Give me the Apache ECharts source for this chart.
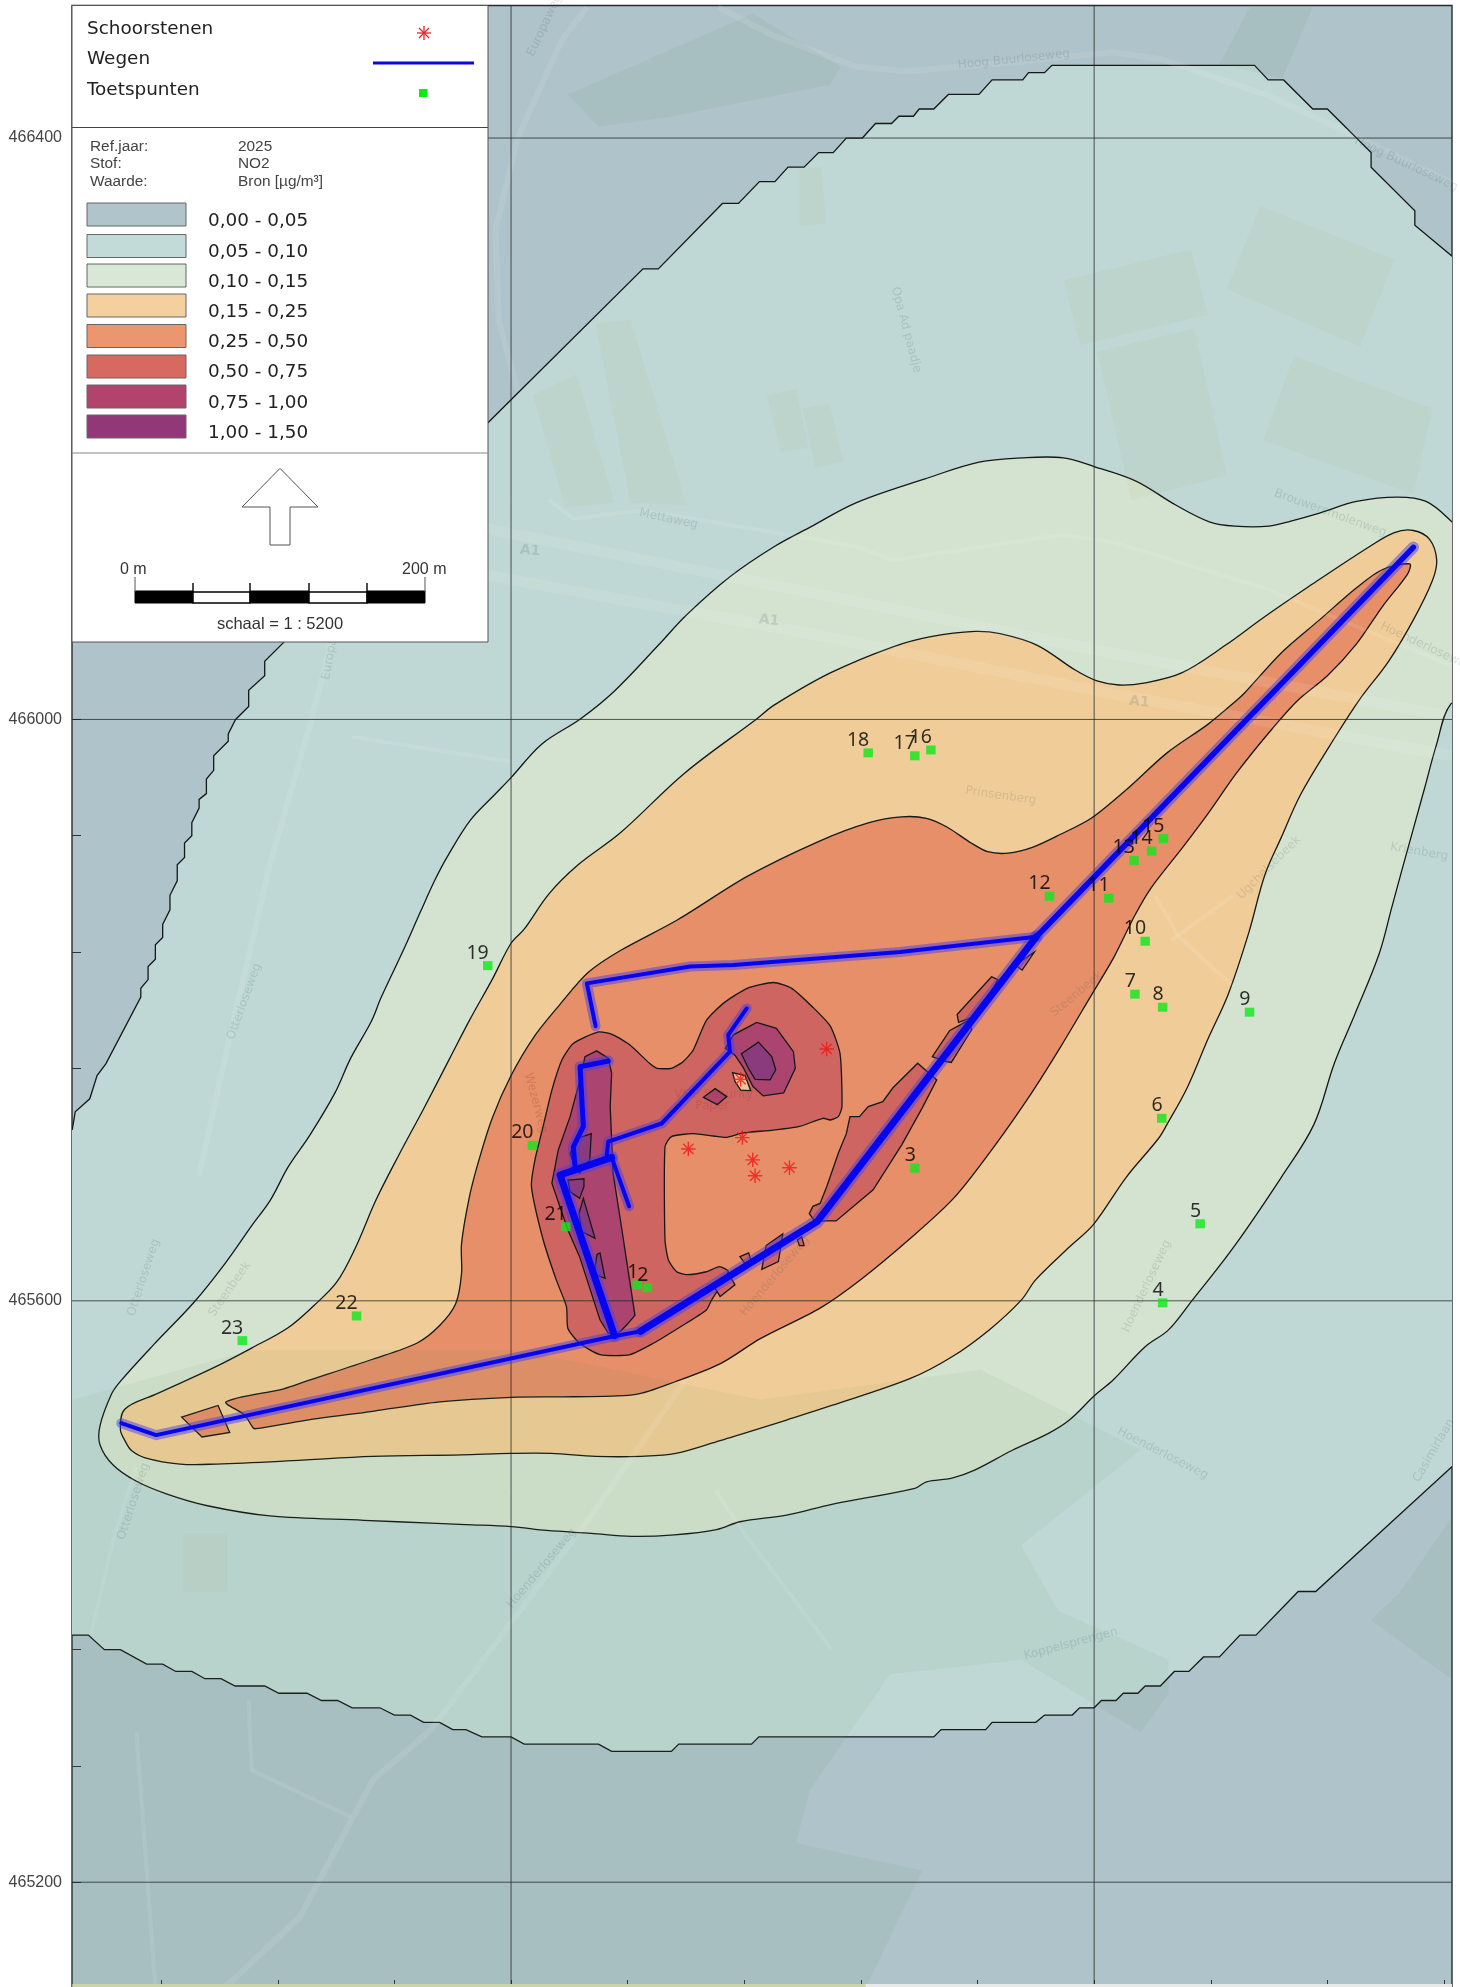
<!DOCTYPE html>
<html><head><meta charset="utf-8">
<style>html,body{margin:0;padding:0;background:#fff}#c{width:1460px;height:1987px}</style>
<script src="https://cdn.jsdelivr.net/npm/echarts@6/dist/echarts.min.js"></script>
</head><body><div id="c"></div>
<script>
// ---- axes (RD metres)
const xMin=174098.8,xMax=175045.5,yMin=465127.9,yMax=466491.2;
const gridX=[174400,174800];
const gridY=[465200,465600,466000,466400];
const tickX=[174160,174240,174320,174400,174480,174560,174640,174720,174800,174880,174960,175040];
const tickY=[465200,465280,465360,465440,465520,465600,465680,465760,465840,465920,466000,466080,466160,466240,466320,466400,466480];
// ---- legend
const classLabels=['0,00 - 0,05','0,05 - 0,10','0,10 - 0,15','0,15 - 0,25','0,25 - 0,50','0,50 - 0,75','0,75 - 1,00','1,00 - 1,50'];
const classColors=['#afc4cb','#c2dad8','#d8e7d6','#f3d09d','#ec9670','#d66a61','#b2436b','#923778'];
const mapColors=['#aec3ca','#bfd8d5','#d4e3d0','#f0cd98','#e68f68','#cf6560','#ac4470','#8a3b7d'];
// ---- contours
const contour005=[[174099,465718],[174101,465730],[174111,465739],[174116,465755],[174122,465763],[174146,465809],[174146,465815],[174151,465821],[174151,465830],[174156,465835],[174156,465845],[174161,465850],[174161,465859],[174166,465869],[174166,465879],[174171,465889],[174171,465900],[174176,465905],[174176,465915],[174181,465920],[174181,465929],[174186,465939],[174186,465945],[174191,465949],[174191,465959],[174196,465965],[174196,465975],[174206,465985],[174206,465990],[174211,466000],[174220,466009],[174220,466020],[174231,466030],[174231,466040],[174244,466053],[174384,466204],[174400,466220],[174490.5,466310],[174501,466310],[174545,466355],[174556,466355],[174570.4,466370],[174581,466370],[174590,466380],[174601,466380],[174611,466390],[174621,466390],[174630,466400],[174641,466400],[174650,466410],[174661,466410],[174666,466415],[174676,466415],[174680,466420],[174690,466420],[174700,466430],[174721,466430],[174730,466440],[174751,466440],[174755,466445],[174766,466445],[174771,466450],[174910,466450],[174919.4,466440],[174930,466440],[174950,466420],[174960,466420],[174990,466390],[174990,466380],[175020,466350],[175020,466340],[175050,466315],[175100,466315],[175100,465490],[175050,465490],[174952,465400],[174940,465400],[174911,465370],[174900,465370],[174886,465355],[174875,465355],[174865,465345],[174855,465345],[174845.4,465335],[174835,465335],[174830,465330],[174820,465330],[174815,465325],[174805,465325],[174800,465320],[174790,465320],[174785,465315],[174766,465315],[174760,465310],[174730,465310],[174725.6,465305],[174695,465305],[174690,465300],[174570,465300],[174565,465295],[174515,465295],[174510,465290],[174469,465290],[174460,465295],[174409,465295],[174400,465300],[174380,465300],[174369,465305],[174360,465305],[174351,465310],[174340,465310],[174331,465315],[174320,465315],[174310,465320],[174291,465320],[174281,465325],[174270,465325],[174260,465330],[174240.7,465330],[174231,465335],[174210.7,465335],[174201,465340],[174190,465340],[174181,465345],[174170,465345],[174161,465350],[174150,465350],[174132,465360],[174121,465360],[174110,465370],[174090,465370],[174060,465370],[174060,465718]];
const contour010=[[174235,465669.5],[174247,465692],[174262,465714],[174279,465742.7],[174290,465767],[174304,465792],[174311,465809],[174326,465841],[174338,465868],[174348,465890],[174356.5,465906],[174372,465930.6],[174389.5,465949],[174400,465960],[174421,465983],[174447.5,466000.3],[174471,466019.6],[174501,466051],[174520.5,466072],[174550.6,466098.5],[174580.7,466119],[174606.5,466133],[174636.6,466149],[174684,466165.5],[174721,466177],[174750.5,466180],[174779,466180],[174800,466174],[174828.7,466164],[174856,466147.5],[174879,466136],[174896.6,466133],[174920,466133],[174935,466136.5],[174954.6,466142],[174980,466150],[175008,466153],[175027.7,466150],[175045,466136.4],[175060,466120],[175060,466015],[175044.6,466010.6],[175034.8,465982.5],[175026.4,465951.6],[175012.4,465901],[175004,465870],[174995.6,465839],[174978.8,465797],[174964.8,465763.5],[174950.8,465721.4],[174928.4,465685],[174894.8,465635.7],[174867,465600],[174851,465580],[174835,465568.4],[174813,465545.5],[174800.5,465535],[174783,465518],[174769,465509],[174743.6,465497],[174718,465483.5],[174702.5,465478],[174685,465475.5],[174677,465471],[174620,465460],[174589,465452.6],[174557,465448],[174541,465442.6],[174512,465439],[174482.7,465438],[174455,465440],[174424.5,465442],[174400,465444.7],[174369,465446],[174345,465447],[174299,465449],[174234.6,465452],[174191.7,465459],[174164,465467],[174142.7,465476],[174127,465487],[174118,465501],[174118,465514],[174126,465536],[174132,465544.6],[174155,465570],[174182.5,465599],[174204,465626],[174222,465651.6]];
const contour015=[[174307.4,465669.5],[174323.4,465701],[174340.5,465733],[174358,465767],[174372,465794],[174387,465821],[174400,465846],[174409,465855.7],[174426,465880],[174446,465900],[174475,465922],[174519,465963],[174568,466000],[174580.7,466010],[174619,466032],[174662,466050],[174688,466057],[174718,466060.6],[174735.4,466059],[174761,466051],[174787,466034],[174802,466026.5],[174817,466023.7],[174834,466025],[174860,466032],[174890,466051],[174916,466070],[174946,466090.6],[174989,466119],[175006,466128.6],[175019,466130],[175030,466124],[175035,466109.6],[175032,466095.4],[175019,466068.5],[175002,466040],[174981.6,466013],[174962,465982.5],[174942,465949],[174928,465918],[174917,465892.6],[174906,465853],[174892,465811],[174878,465780],[174864,465747],[174850,465721.4],[174844,465711.5],[174822,465685],[174799.6,465652.6],[174783,465637],[174760,465614.6],[174750,465600.5],[174728,465580],[174702.5,465561.5],[174674,465546.6],[174620,465528],[174589,465518],[174557,465508],[174544,465504],[174513,465495],[174489,465493],[174458,465493],[174427.5,465495],[174400,465495],[174366,465494],[174305,465493],[174250,465490],[174198,465487.7],[174173,465487.7],[174149,465492],[174139.6,465497],[174135,465504],[174132,465511.4],[174135,465525.4],[174156,465535.6],[174195,465553.5],[174222,465567.5],[174247,465581.5],[174265,465597],[174280.5,465613],[174293,465636]];
const contour025=[[174371,465669.5],[174377,465693.5],[174387,465725.5],[174400,465755],[174416,465782],[174433.6,465804],[174453,465826],[174475,465841],[174514,465862],[174562,465892],[174612,465916.5],[174645.6,465929],[174668,465933],[174685,465932],[174699,465926],[174715.6,465915],[174727,465909],[174741,465908],[174757.6,465912],[174777,465921],[174798,465932],[174822,465951.6],[174850,465977],[174878,465996.6],[174897.6,466013],[174903,466018],[174929,466046.4],[174954.6,466068.5],[174980,466090.6],[174997.6,466103],[175016.5,466107],[175015,466100],[174998,466078],[174980,466052],[174960,466030],[174939.6,466013],[174920,465991],[174897.6,465963],[174878,465935],[174861,465912.3],[174839,465884],[174827.6,465864.6],[174813.6,465836.5],[174797,465808.4],[174777,465774.7],[174757.6,465743.8],[174732,465707],[174704,465671],[174673.6,465642.7],[174640,465614.7],[174612,465595],[174571,465574],[174544,465557],[174513,465544.5],[174485.7,465535.6],[174443,465534],[174400,465533.6],[174351,465530.5],[174305,465524],[174259,465517.8],[174225,465512],[174223,465512.7],[174217,465521.6],[174204.5,465530.5],[174244,465539.5],[174259,465544.5],[174305,465559.8],[174335.6,465571],[174351,465583],[174362,465598],[174366,465618.4],[174366,465639]];
const patch025=[[[174174,465520],[174199,465528],[174207,465509.4],[174188,465506.3]]];
const contour050=[[174460,465785],[174470,465783],[174481.6,465776],[174495,465763.4],[174500,465760],[174510,465760],[174518,465764.5],[174525,465772.6],[174534,465793],[174546,465805],[174562,465815],[174580,465819],[174592.5,465815],[174607,465802],[174619,465789],[174625.7,465770],[174627,465733.6],[174624.5,465726.7],[174619,465724.4],[174614,465725.6],[174598,465720],[174580,465717.5],[174564,465716],[174557,465715],[174548,465712.5],[174539,465713.4],[174525,465715],[174510,465713],[174505.6,465706],[174505.6,465642],[174508,465628],[174513.6,465620],[174520.5,465618],[174534,465620],[174543,465623.5],[174549,465620],[174537.6,465600.6],[174534,465593.7],[174516,465582],[174497.6,465570.8],[174481.6,465563],[174461,465563],[174447,465570.8],[174439,465581],[174438,465596],[174431,465614.4],[174422,465642],[174414,465678.6],[174416.4,465697],[174422,465720],[174428,465745],[174435,465766],[174442.7,465777]];
const band050=[[174679,465763.5],[174692,465752],[174682,465732.6],[174668,465707.3],[174648.4,465676.4],[174623,465655],[174616,465655],[174608.5,465654.5],[174604.6,465660],[174607,465665],[174612,465667],[174616.6,465678.6],[174624.5,465701.5],[174630,465715],[174632.5,465726.7],[174639,465726.7],[174645,465733.6],[174655,465737],[174662,465746.6]];
const patches050=[
 [[174689,465768],[174701,465786],[174714,465793],[174716,465786.5],[174702,465764],[174697,465765]],
 [[174706,465797],[174729.6,465823],[174734,465821],[174720.6,465796.6],[174707,465791.6]],
 [[174746,465831],[174759,465840],[174750.6,465827.5]],
 [[174557,465630.4],[174563,465633],[174565,465626],[174562,465623.5]],
 [[174575,465638],[174586.4,465646],[174583.4,465627],[174572,465621.7],[174574,465633]],
 [[174596.4,465642],[174599.4,465644],[174601,465638],[174597.8,465638]],
 [[174540,465608.6],[174549,465619],[174553.6,465611],[174543.4,465603]]];
const contour075=[[[174458.7,465772],[174466.7,465767],[174469,465756.5],[174468,465733.6],[174470,465687.7],[174475,465655.6],[174485,465590],[174479.3,465583.4],[174472.5,465576.5],[174466.7,465577.7],[174461,465587],[174447,465630.4],[174439,465648.7],[174428,465681],[174432.4,465703.8],[174440.5,465726.7],[174447.3,465752],[174450.7,465768]],
 [[174547,465773.7],[174552.5,465783],[174568.5,465791.6],[174582,465787.5],[174593.7,465771.4],[174595,465760],[174587,465743],[174573,465741],[174566,465747.4],[174559,465761],[174553.6,465769]],
 [[174532,465740],[174540,465746],[174548,465740.5],[174541.5,465735]]];
const holeCell=[[[174552,465757],[174560.5,465755],[174564.4,465744.6],[174557.5,465745],[174553.6,465751]]];
const contour100=[[[174558,465770],[174569.7,465778],[174578.8,465768],[174581.6,465759],[174577.7,465752],[174567.4,465752.4],[174562.8,465760]],
 [[174446,465712],[174455,465715],[174454,465697],[174447,465688],[174444,465691],[174440.5,465701.5]],
 [[174439,465683],[174450,465684],[174450,465678.6],[174447,465670.5],[174440.5,465675]],
 [[174449.6,465670.5],[174457.6,465643],[174448.5,465647.6],[174446.6,465660]],
 [[174459,465632],[174461,465633],[174464.5,465615.5],[174457.6,465618],[174457.6,465623.5]]];
// ---- base map tints (drawn faintly over the contours)
const mapForest=[
 [[174722,465552.5],[174832,465497.5],[174750,465432],[174775,465387],[174851,465353],[174851,465330],[174832,465303],[174750,465353],[174660,465343],[174605,465263.5],[174595.5,465227],[174682,465208],[174643.5,465128],[174099,465128],[174099,465532],[174221,465566],[174406,465566],[174571,465532]],
 [[174439,466430],[174565.7,466485.5],[174626,466449],[174619,466436.6],[174507.6,466414.4],[174460,466408]],
 [[174886,466451],[174907,466490],[174950,466490],[174929,466441]],
 [[175045,465450],[175010,465400],[174990,465380],[175045,465340]]];
const mapFields=[
 [[174914,466353],[175006,466316.5],[174982.5,466256.5],[174891,466296]],
 [[174779,466302],[174866.5,466323.5],[174878,466278.6],[174790.5,466257.4]],
 [[174802,466253],[174868.7,466269],[174891,466168],[174825.7,466150.6]],
 [[174937,466250],[175032,466214],[175019,466155],[174916,466192]],
 [[174598,466378],[174613,466380],[174616,466341],[174598,466339.6]],
 [[174575.5,466223],[174595.7,466227.4],[174604,466187],[174585,466184]],
 [[174600,466214],[174618.5,466217],[174628,466177.5],[174608.6,466173.4]],
 [[174415,466223],[174445,466237.5],[174471,466149],[174437,466146]],
 [[174458,466272],[174482,466275.4],[174520.5,466147.5],[174482,466149]],
 [[174175,465400],[174205,465400],[174205,465440],[174175,465440]]];
const mapRoads=[
 [[174542,466490],[174581,466470],[174637,466449],[174671,466446],[174744,466452],[174813,466459],[174847,466454],[174920,466429],[174989,466397],[175045,466369]],
 [[174452,466490],[174434.6,466467],[174404.5,466400],[174389.4,466337],[174391.6,466274],[174404.5,466226]],
 [[174277,466054.7],[174262,465996],[174235,465902],[174206,465777],[174186,465686]],
 [[174519,465544.5],[174452,465448],[174345,465305],[174305,465270],[174255,465176],[174204,465128]],
 [[174143,465486],[174127,465435],[174112,465371]],
 [[174143,465303],[174156,465128]],
 [[174220,465325],[174222,465277],[174290,465245]],
 [[174379,466132],[174637,466081],[174808.5,466046.4],[175045,466002]],
 [[174379,466100],[174600,466060],[174800,466020],[175045,465975]],
 [[174426,466151],[174443,466138],[174490.5,466144],[174637,466119],[174662,466109.6],[174778,466127],[174813,466122],[174916,466090.6],[175045,466037]],
 [[174842,465878.6],[174858,465850.5],[174895,465817]],
 [[174853,465848],[174895,465878.6]],
 [[174291,465988],[174399,465971]],
 [[174540,465470],[174560,465440],[174620,465360]]];
const mapLabelNames=['Hoog Buurloseweg','Hoog Buurloseweg','Opa Ad paadje','Mettaweg','A1','A1','A1','Brouwersmolenweg','Prinsenberg','Otterloseweg','Otterloseweg','Otterloseweg','Europaweg','Europaweg','Hoenderloseweg','Hoenderloseweg','Hoenderloseweg','Hoenderloseweg','Hoenderloseweg','Koppelsprengen','Wezerweg','Krienberg','Ugchelsebeek','Steenbeek','Steenbeek','VMP Security','Paper','Casimirlaan'];
const mapLabelX=[174745,175014,174671,174508,174413,174577,174831,174962,174736,174217,174148,174141,174423,174277,174421,174847,175028,174836,174581,174784,174417,175023,174920,174788,174207,174539,174538,175033];
const mapLabelY=[466454,466382,466268,466138,466116,466068,466012,466142,465947.5,465806,465616,465462,466477.6,466050,465416,465495,466050,465610,465617,465364,465736,465909,465898,465811,465608,465742,465734,465497];
const mapLabelRot=[6,-25,-75,-12,-5,-5,-5,-20,-8,70,72,72,65,80,50,-27,-25,65,50,15,-75,-10,45,40,55,0,0,60];
const mapStripLeft=[[174099,465127.9],[174643,465127.9],[174643,465130],[174099,465130]];
const mapStripRight=[[174643,465127.9],[175045.5,465127.9],[175045.5,465130],[174643,465130]];
// ---- roads
const roadWest=[[174132.6,465515.8],[174156.5,465507.6],[174470.4,465575.6],[174488.8,465579]];
const roadSouthEast=[[174488.8,465579],[174610,465654.5],[174760.4,465850.5]];
const roadNorthEast=[[174760.4,465850.5],[175019,466118.4]];
const roadNorth=[[174760.4,465850.5],[174666.9,465840],[174552.5,465831],[174522.8,465830],[174452,465818.4],[174458,465789]];
const roadParkMain=[[174471,465576],[174433.6,465686.6],[174469,465698.7]];
const roadParkSpur=[[174469,465698.7],[174481,465665]];
const roadParkWest=[[174444,465691],[174442.7,465706],[174449.6,465720],[174447.3,465761],[174466.7,465765]];
const roadParkEast=[[174465.6,465700],[174466.7,465709.5],[174503.3,465722],[174550.2,465771.4],[174549,465783],[174561.7,465801.2]];
// ---- chimneys and test points
const chimneys=[[174616.5,465773.3],[174557.5,465752.4],[174558.7,465712.3],[174521.6,465704.5],[174565.8,465697],[174567.4,465686],[174591,465691.6]];
const pointNames=['1','2','3','4','5','6','7','8','9','10','11','12','13','14','15','16','17','18','19','20','21','22','23'];
const pointX=[174486.6,174493.5,174677,174847,174872.7,174846.4,174828,174847,174906.6,174835,174810,174769.4,174827.3,174839.4,174847.5,174688,174677,174645,174384,174414.7,174437.5,174294,174215.6];
const pointY=[465611,465609,465691.3,465598.6,465653,465725.6,465811,465802,465798.6,465847.4,465877,465878.3,465903,465909.5,465918,465979,465975,465977,465830.6,465707,465651,465589.6,465572.6];

const STAR='path://M0 -10L0 10M-10 0L10 0M-7.07 -7.07L7.07 7.07M-7.07 7.07L7.07 -7.07';
const stroke='#141816';
function polys(list,fill,z,lw,st,smooth){
  return {type:'custom',coordinateSystem:'cartesian2d',clip:true,silent:true,z:z,
    encode:{x:-1,y:-1},data:list.map((p,i)=>[i]),
    renderItem:(params,api)=>({type:'polygon',
      shape:{points:list[params.dataIndex].map(p=>api.coord(p)),smooth:smooth||0},
      style:{fill:fill,stroke:st===undefined?stroke:st,lineWidth:lw===undefined?1.3:lw}})};
}
function road(pts,w){
  const mk=(width,color,z)=>({type:'line',data:pts,symbol:'none',silent:true,z:z,
    lineStyle:{width:width,color:color,cap:'round',join:'round'}});
  return [mk(w+6,'rgba(70,60,235,0.48)',30),mk(w,'#0505f0',31)];
}
const series=[
  polys([contour005],mapColors[1],2),
  polys([contour010],mapColors[2],3,1.3,stroke,0.35),
  polys([contour015],mapColors[3],4,1.3,stroke,0.35),
  polys([contour025],mapColors[4],5,1.3,stroke,0.3),
  polys(patch025,mapColors[4],5),
  polys([contour050],mapColors[5],6,1.3,stroke,0.2),
  polys([band050].concat(patches050),mapColors[5],6),
  polys(contour075,mapColors[6],7),
  polys(holeCell,'#f3c596',8),
  polys(contour100,mapColors[7],8),
  polys(mapForest,'rgba(105,135,85,0.07)',10,0,'none'),
  polys(mapFields,'rgba(170,170,100,0.07)',10,0,'none'),
  polys([mapStripLeft],'#c9d4a8',40,0,'none'),
  polys([mapStripRight],'#e9e9e9',40,0,'none')
];
mapRoads.forEach((r,i)=>series.push({type:'line',data:r,symbol:'none',silent:true,z:11,
  lineStyle:{width:(i===7||i===8)?11:(i<4?6:4),color:'rgba(255,255,255,0.09)',join:'round'}}));
series.push({type:'scatter',silent:true,z:12,symbolSize:0,
  data:mapLabelNames.map((n,i)=>({value:[mapLabelX[i],mapLabelY[i]],
    label:{show:true,position:'inside',formatter:n,rotate:mapLabelRot[i],
      color:(n==='Paper'||n==='VMP Security'||n==='Wezerweg')?'rgba(170,50,50,0.3)':'rgba(70,95,100,0.22)',
      fontSize:n==='A1'?14:12,fontWeight:n==='A1'?'bold':'normal',fontFamily:'DejaVu Sans'}}))});
gridY.forEach(v=>series.push({type:'line',data:[[xMin,v],[xMax,v]],symbol:'none',silent:true,z:20,lineStyle:{width:1,color:'rgba(30,35,35,0.75)'}}));
gridX.forEach(v=>series.push({type:'line',data:[[v,yMin],[v,yMax]],symbol:'none',silent:true,z:20,lineStyle:{width:1,color:'rgba(30,35,35,0.75)'}}));
[[roadWest,4],[roadSouthEast,7],[roadNorthEast,5.5],[roadNorth,4],[roadParkMain,7],[roadParkSpur,4],[roadParkWest,5],[roadParkEast,4]]
  .forEach(r=>road(r[0],r[1]).forEach(s=>series.push(s)));
series.push({type:'scatter',silent:true,z:33,data:chimneys,symbol:STAR,symbolSize:14.5,
  itemStyle:{color:'none',borderColor:'#f01818',borderWidth:1.4}});
series.push({type:'scatter',silent:true,z:34,symbol:'rect',symbolSize:[9.5,9],
  itemStyle:{color:'#0ce81a'},
  data:pointNames.map((n,i)=>({value:[pointX[i],pointY[i]],name:n})),
  label:{show:true,position:'top',align:'right',distance:-2,offset:[1,0],formatter:p=>p.name,color:'#000',fontSize:19.5,fontFamily:'Noto Sans'}});

// ---- legend box
const g=[];
const Z=100;
function txt(t,x,y,font,fill,align){g.push({type:'text',z:Z+2,x:x,y:y,style:{text:t,font:font,fill:fill||'#222',align:align||'left',verticalAlign:'middle'}});}
function rect(x,y,w,h,fill,st,lw){g.push({type:'rect',z:Z+1,shape:{x:x,y:y,width:w,height:h},style:{fill:fill,stroke:st,lineWidth:lw||1}});}
function ln(a,b,c,d,st,lw){g.push({type:'line',z:Z+2,shape:{x1:a,y1:b,x2:c,y2:d},style:{stroke:st||'#222',lineWidth:lw||1}});}
g.push({type:'rect',z:Z,shape:{x:72,y:5.5,width:416,height:636.5},style:{fill:'#fff',stroke:'#555',lineWidth:1}});
ln(72,127.5,488,127.5,'#444');ln(72,453,488,453,'#888');
const bigF='18.4px "DejaVu Sans"',smallF='15.4px "Liberation Sans"';
txt('Schoorstenen',87,29,bigF,'#222');txt('Wegen',87,59.5,bigF,'#222');txt('Toetspunten',87,90,bigF,'#222');
ln(424,26,424,40,'#e8202a',1.3);ln(417,33,431,33,'#e8202a',1.3);ln(419,28,429,38,'#e8202a',1.3);ln(419,38,429,28,'#e8202a',1.3);
ln(373,63,474,63,'#0808d8',3);
rect(419,89,8.5,8,'#0ce81a','none',0);
txt('Ref.jaar:',90,146.5,smallF,'#444');txt('Stof:',90,164,smallF,'#444');txt('Waarde:',90,182,smallF,'#444');
txt('2025',238,146.5,smallF,'#444');txt('NO2',238,164,smallF,'#444');txt('Bron [µg/m³]',238,182,smallF,'#444');
const swY=[203,234.5,264,294,324.5,355,385,415];
const labY=[221,252,282,312.5,342,372,403,433];
classLabels.forEach((c,i)=>{rect(87,swY[i],99,23,classColors[i],'#666',1);txt(c,208,labY[i],bigF,'#222');});
g.push({type:'polygon',z:Z+2,shape:{points:[[280,468.4],[318,507],[290,507],[290,545],[270,545],[270,507],[242,507]]},style:{fill:'#fff',stroke:'#555',lineWidth:1}});
txt('0 m',120,570,'16px "Liberation Sans"','#333');txt('200 m',402,570,'16px "Liberation Sans"','#333');
rect(135,591,58,12,'#000','#000');rect(193,592,57,11,'#fff','#000',1.5);rect(250,591,59,12,'#000','#000');rect(309,592,58,11,'#fff','#000',1.5);rect(367,591,58,12,'#000','#000');
[193,250,309,367].forEach(x=>ln(x,583,x,592,'#000',1.4));
ln(135,577,135,592,'#555');ln(425,577,425,592,'#555');
txt('schaal = 1 : 5200',280,624,'16.5px "Liberation Sans"','#333','center');

echarts.init(document.getElementById('c'),null,{renderer:'canvas'}).setOption({
  animation:false,backgroundColor:'#fff',
  grid:{left:72,right:8,top:5.5,bottom:0,show:true,backgroundColor:mapColors[0],borderColor:'#2b2b2b',borderWidth:1.4,containLabel:false},
  xAxis:{type:'value',min:xMin,max:xMax,axisLine:{show:false},splitLine:{show:false},
    axisTick:{show:true,inside:true,length:7,customValues:tickX,lineStyle:{color:'#333'}},axisLabel:{show:false}},
  yAxis:{type:'value',min:yMin,max:yMax,axisLine:{show:false},splitLine:{show:false},
    axisTick:{show:true,inside:true,length:9,customValues:tickY,lineStyle:{color:'#333'}},
    axisLabel:{show:true,customValues:gridY,margin:10,padding:[3,0,0,0],formatter:v=>String(v),color:'#444',fontSize:16,fontFamily:'Liberation Sans'}},
  graphic:{elements:g},
  series:series
});
</script></body></html>
